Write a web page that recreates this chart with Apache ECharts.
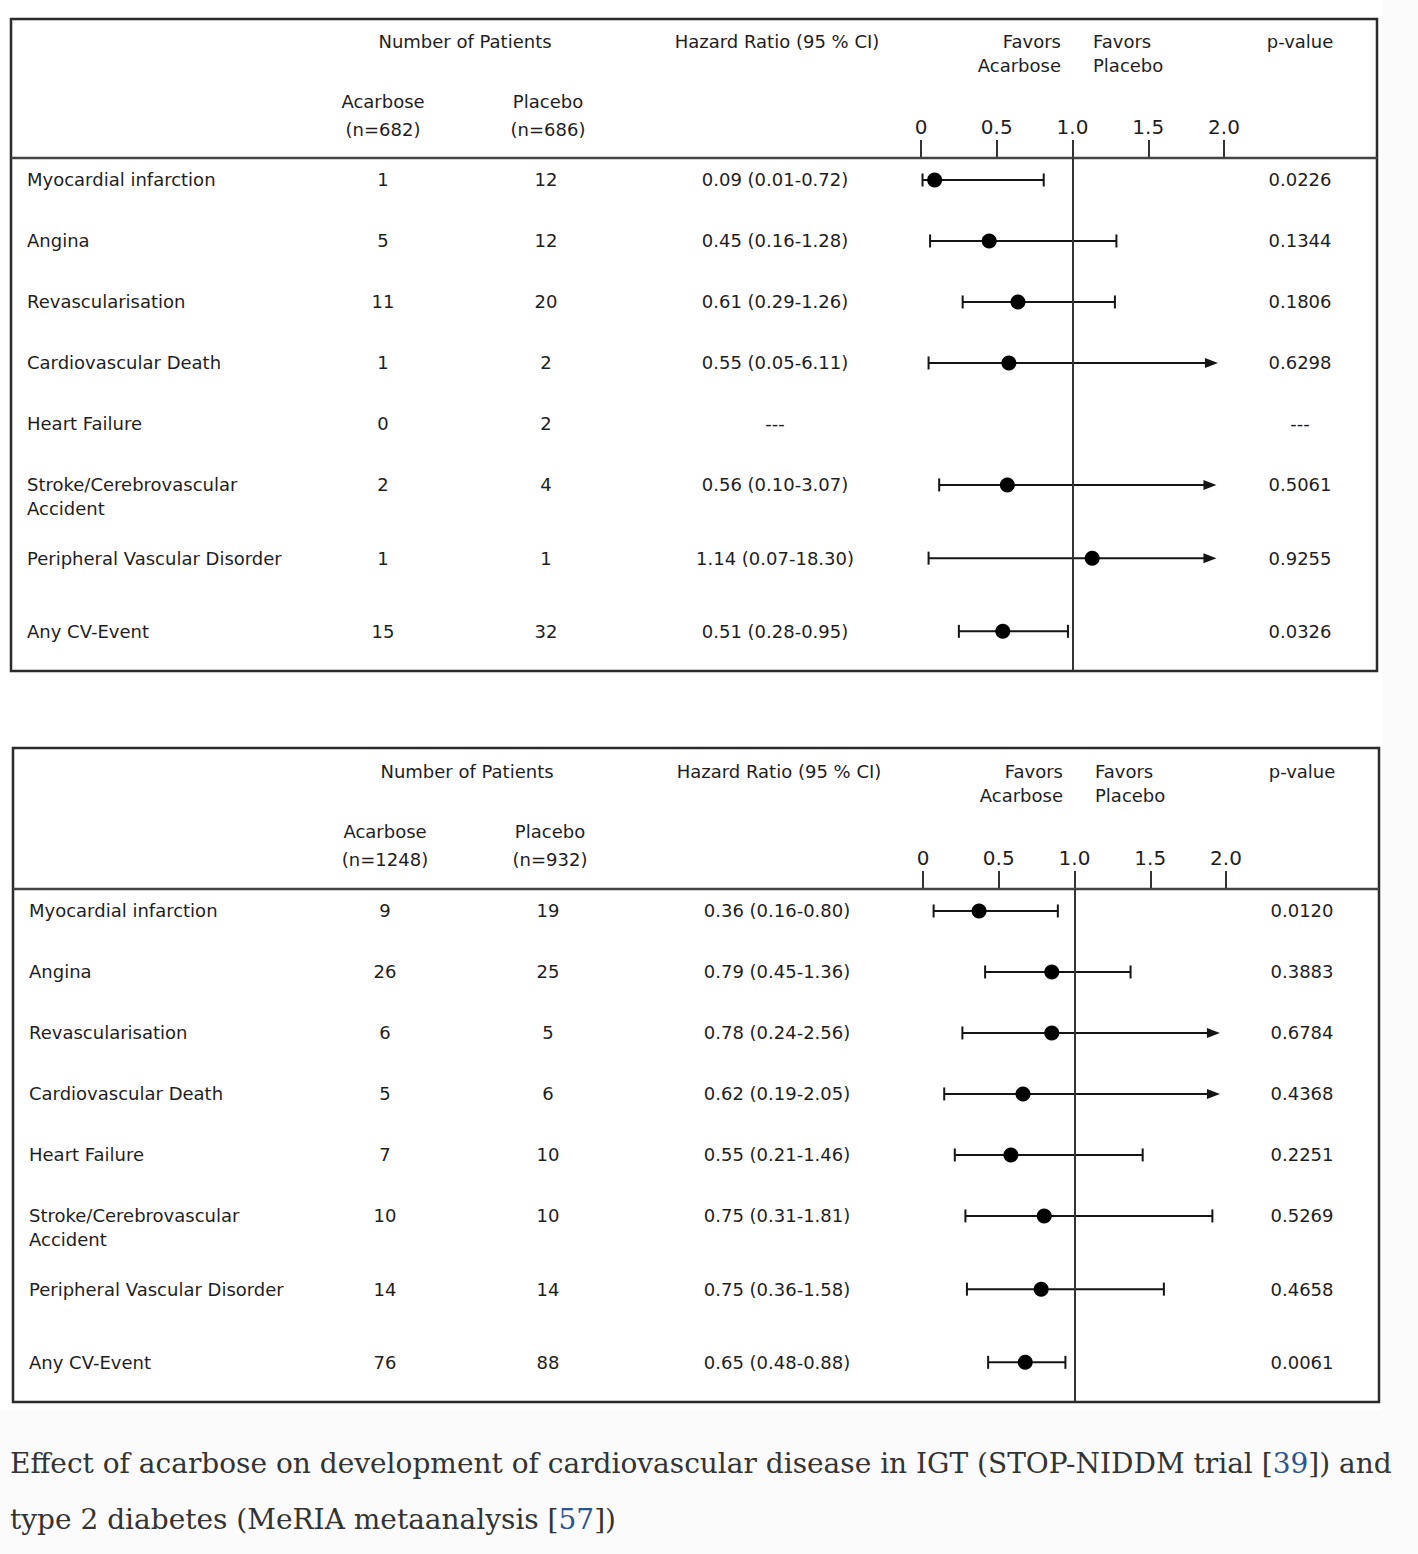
<!DOCTYPE html>
<html>
<head>
<meta charset="utf-8">
<script src="https://cdn.jsdelivr.net/npm/echarts@6/dist/echarts.min.js"></script>
<style>
html,body{margin:0;padding:0;background:#fbfbfb;}
#chart{width:1418px;height:1554px;}
</style>
</head>
<body>
<div id="chart"></div>
<script>
// ---------- DATA ----------
const outcomes = ["Myocardial infarction", "Angina", "Revascularisation", "Cardiovascular Death",
  "Heart Failure", "Stroke/Cerebrovascular\nAccident", "Peripheral Vascular Disorder", "Any CV-Event"];
const tickLabels = ["0", "0.5", "1.0", "1.5", "2.0"];

// Panel 1: STOP-NIDDM (IGT)
const nAcarbose1 = "(n=682)";
const nPlacebo1 = "(n=686)";
const acarbose1 = [1, 5, 11, 1, 0, 2, 1, 15];
const placebo1 = [12, 12, 20, 2, 2, 4, 1, 32];
const hrText1 = ["0.09 (0.01-0.72)", "0.45 (0.16-1.28)", "0.61 (0.29-1.26)", "0.55 (0.05-6.11)", "---",
  "0.56 (0.10-3.07)", "1.14 (0.07-18.30)", "0.51 (0.28-0.95)"];
const pText1 = ["0.0226", "0.1344", "0.1806", "0.6298", "---", "0.5061", "0.9255", "0.0326"];
// plotted marks as drawn in the figure
const hr1 = [0.09, 0.45, 0.64, 0.58, null, 0.57, 1.13, 0.54];
const lo1 = [0.01, 0.06, 0.275, 0.05, null, 0.12, 0.05, 0.25];
const hi1 = [0.81, 1.29, 1.28, 1.96, null, 1.95, 1.95, 0.97];

// Panel 2: MeRIA meta-analysis (type 2 diabetes)
const nAcarbose2 = "(n=1248)";
const nPlacebo2 = "(n=932)";
const acarbose2 = [9, 26, 6, 5, 7, 10, 14, 76];
const placebo2 = [19, 25, 5, 6, 10, 10, 14, 88];
const hrText2 = ["0.36 (0.16-0.80)", "0.79 (0.45-1.36)", "0.78 (0.24-2.56)", "0.62 (0.19-2.05)",
  "0.55 (0.21-1.46)", "0.75 (0.31-1.81)", "0.75 (0.36-1.58)", "0.65 (0.48-0.88)"];
const pText2 = ["0.0120", "0.3883", "0.6784", "0.4368", "0.2251", "0.5269", "0.4658", "0.0061"];
const hr2 = [0.37, 0.85, 0.85, 0.66, 0.58, 0.80, 0.78, 0.675];
const lo2 = [0.07, 0.41, 0.26, 0.14, 0.21, 0.28, 0.29, 0.43];
const hi2 = [0.89, 1.37, 1.96, 1.96, 1.45, 1.91, 1.59, 0.94];

// ---------- LAYOUT / STYLE ----------
const SANS = "DejaVu Sans";
const TXT = "#1e1e1e";
const FS = 18;
const X_MAX = 2;

// row position: extra gap after multi-line labels and before summary row
function rowPos(i) {
  let extra = 0;
  for (let k = 0; k < i; k++) if (outcomes[k].indexOf("\n") >= 0) extra += 0.2;
  if (i === outcomes.length - 1) extra += 0.2;
  return i + extra;
}

function upperOf(t) {
  const m = t.match(/-([\d.]+)\)/);
  return m ? parseFloat(m[1]) : null;
}

const panels = [
  { dx: 0, dy: 0, box: [11, 19, 1366, 652], sep: 158, grid: { left: 921, top: 158 },
    nA: nAcarbose1, nP: nPlacebo1, acarb: acarbose1, plac: placebo1, hrT: hrText1, pT: pText1,
    hr: hr1, lo: lo1, hi: hi1 },
  { dx: 2, dy: 730, box: [13, 748, 1366, 654], sep: 889, grid: { left: 923, top: 889 },
    nA: nAcarbose2, nP: nPlacebo2, acarb: acarbose2, plac: placebo2, hrT: hrText2, pT: pText2,
    hr: hr2, lo: lo2, hi: hi2 }
];

function txt(x, y, text, align, extra) {
  return Object.assign({
    type: "text", x: x, y: y, silent: true,
    style: { text: text, fill: TXT, fontFamily: SANS, fontSize: FS, align: align || "center", verticalAlign: "middle" }
  }, extra || {});
}

const graphics = [
  { type: "rect", shape: { x: 0, y: 0, width: 1382, height: 1410 }, style: { fill: "#ffffff" }, silent: true, z: -10 }
];
const grids = [], xAxes = [], yAxes = [], series = [];

panels.forEach(function (p, pi) {
  const dx = p.dx, dy = p.dy;
  // box + header separator
  graphics.push({ type: "rect", shape: { x: p.box[0], y: p.box[1], width: p.box[2], height: p.box[3] },
    style: { fill: "none", stroke: "#2b2b2b", lineWidth: 2.5 }, silent: true, z: 5 });
  graphics.push({ type: "line", shape: { x1: p.box[0], y1: p.sep, x2: p.box[0] + p.box[2], y2: p.sep },
    style: { stroke: "#444", lineWidth: 2.5 }, silent: true, z: 5 });
  // headers
  graphics.push(txt(465 + dx, 41 + dy, "Number of Patients"));
  graphics.push(txt(777 + dx, 41 + dy, "Hazard Ratio (95 % CI)"));
  graphics.push(txt(1061 + dx, 41 + dy, "Favors", "right"));
  graphics.push(txt(1061 + dx, 65 + dy, "Acarbose", "right"));
  graphics.push(txt(1093 + dx, 41 + dy, "Favors", "left"));
  graphics.push(txt(1093 + dx, 65 + dy, "Placebo", "left"));
  graphics.push(txt(1300 + dx, 41 + dy, "p-value"));
  graphics.push(txt(383 + dx, 101 + dy, "Acarbose"));
  graphics.push(txt(383 + dx, 129 + dy, p.nA));
  graphics.push(txt(548 + dx, 101 + dy, "Placebo"));
  graphics.push(txt(548 + dx, 129 + dy, p.nP));

  grids.push({ left: p.grid.left, top: p.grid.top, width: 303, height: 513, containLabel: false });
  xAxes.push({
    gridIndex: pi, type: "value", min: 0, max: X_MAX, interval: 0.5, position: "top",
    axisLine: { show: false, onZero: false },
    axisTick: { show: true, length: 18, inside: false, lineStyle: { color: "#333", width: 2 } },
    axisLabel: { show: true, margin: 21, fontSize: 20, color: TXT, fontFamily: SANS, showMinLabel: true, showMaxLabel: true,
      formatter: function (v) { return tickLabels[Math.round(v / 0.5)]; } },
    splitLine: { show: false }
  });
  yAxes.push({ gridIndex: pi, type: "value", inverse: true, min: -0.36, max: 8.05, show: false });

  // reference line at HR = 1
  series.push({
    type: "line", xAxisIndex: pi, yAxisIndex: pi, data: [], silent: true,
    markLine: { silent: true, symbol: "none", label: { show: false },
      lineStyle: { color: "#333", width: 2, type: "solid" }, data: [{ xAxis: 1 }] }
  });

  // table texts
  series.push({
    type: "custom", xAxisIndex: pi, yAxisIndex: pi, clip: false, silent: true,
    data: outcomes.map(function (_, i) { return [0, rowPos(i)]; }),
    encode: { x: 0, y: 1 },
    renderItem: function (params, api) {
      const i = params.dataIndex;
      const y = api.coord([0, api.value(1)])[1];
      const st = function (text, align) {
        return { text: String(text), fill: TXT, fontFamily: SANS, fontSize: FS, align: align,
          verticalAlign: "top", lineHeight: 24 };
      };
      return { type: "group", children: [
        { type: "text", x: 27 + dx, y: y - 12, style: st(outcomes[i], "left") },
        { type: "text", x: 383 + dx, y: y - 12, style: st(p.acarb[i], "center") },
        { type: "text", x: 546 + dx, y: y - 12, style: st(p.plac[i], "center") },
        { type: "text", x: 775 + dx, y: y - 12, style: st(p.hrT[i], "center") },
        { type: "text", x: 1300 + dx, y: y - 12, style: st(p.pT[i], "center") }
      ] };
    }
  });

  // CI bars + point estimates
  const ciData = [];
  outcomes.forEach(function (_, i) {
    if (p.hr[i] == null) return;
    const up = upperOf(p.hrT[i]);
    ciData.push([p.lo[i], p.hi[i], p.hr[i], rowPos(i), up != null && up > X_MAX ? 1 : 0]);
  });
  series.push({
    type: "custom", xAxisIndex: pi, yAxisIndex: pi, clip: false, silent: true, z: 3,
    data: ciData, encode: { x: [0, 1, 2], y: 3 },
    renderItem: function (params, api) {
      const y = api.coord([0, api.value(3)])[1];
      const xl = api.coord([api.value(0), 0])[0];
      const xh = api.coord([api.value(1), 0])[0];
      const xm = api.coord([api.value(2), 0])[0];
      const open = api.value(4) === 1;
      const ls = { stroke: "#151515", lineWidth: 2 };
      const ch = [
        { type: "line", shape: { x1: xl, y1: y, x2: open ? xh - 6 : xh, y2: y }, style: ls },
        { type: "line", shape: { x1: xl, y1: y - 6.5, x2: xl, y2: y + 6.5 }, style: ls }
      ];
      if (open) {
        ch.push({ type: "polygon", shape: { points: [[xh, y], [xh - 13, y - 5], [xh - 13, y + 5]] },
          style: { fill: "#151515" } });
      } else {
        ch.push({ type: "line", shape: { x1: xh, y1: y - 6.5, x2: xh, y2: y + 6.5 }, style: ls });
      }
      ch.push({ type: "circle", shape: { cx: xm, cy: y, r: 7.5 }, style: { fill: "#000" } });
      return { type: "group", children: ch };
    }
  });
});

const chart = echarts.init(document.getElementById("chart"), null, { renderer: "svg", width: 1418, height: 1554 });
chart.setOption({
  animation: false,
  backgroundColor: "#fbfbfb",
  title: {
    left: 5, top: 1430,
    text: "{t|Effect of acarbose on development of cardiovascular disease in IGT (STOP-NIDDM trial [}{l|39}{t|]) and}\n{t|type 2 diabetes (MeRIA metaanalysis [}{l|57}{t|])}",
    textStyle: {
      fontWeight: "normal",
      rich: {
        t: { fontFamily: "DejaVu Serif", fontSize: 28, fontWeight: "normal", color: "#333", lineHeight: 56 },
        l: { fontFamily: "DejaVu Serif", fontSize: 28, fontWeight: "normal", color: "#2b5592", lineHeight: 56 }
      }
    }
  },
  grid: grids, xAxis: xAxes, yAxis: yAxes, series: series, graphic: graphics
});
</script>
</body>
</html>
